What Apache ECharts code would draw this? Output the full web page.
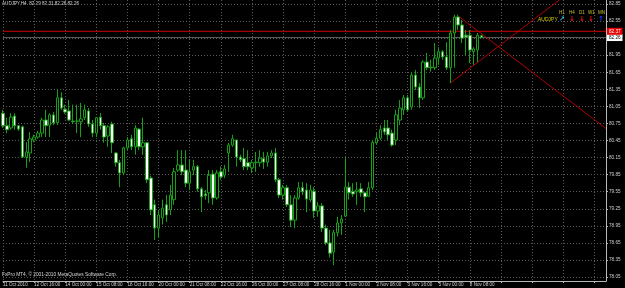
<!DOCTYPE html>
<html><head><meta charset="utf-8">
<script src="https://cdn.jsdelivr.net/npm/echarts@6/dist/echarts.min.js"></script>
<style>html,body{margin:0;padding:0;background:#000}#c{width:625px;height:288px}</style>
</head><body><div id="c"></div>
<script>
const xLabels = ['11 Oct 2010','12 Oct 16:00','14 Oct 00:00','15 Oct 08:00','18 Oct 16:00','20 Oct 00:00','21 Oct 08:00','22 Oct 16:00','26 Oct 00:00','27 Oct 08:00','28 Oct 16:00','1 Nov 00:00','2 Nov 08:00','3 Nov 16:00','5 Nov 00:00','8 Nov 08:00'];
const yTicks = [78.05,78.35,78.65,78.95,79.25,79.55,79.85,80.15,80.45,80.75,81.05,81.35,81.65,81.95,82.25,82.55,82.85];
const opens = [80.93,80.71,80.67,80.88,80.71,80.69,80.16,80.23,80.46,80.51,
80.58,80.81,80.72,80.90,80.76,81.20,81.00,80.97,80.79,80.79,
80.78,80.85,80.97,80.74,80.58,80.86,80.71,80.53,80.74,80.23,
80.06,79.88,80.32,80.48,80.34,80.65,80.34,80.41,79.79,79.32,
78.91,79.09,79.32,79.23,79.41,79.93,80.02,79.93,79.70,79.93,
79.99,79.60,79.51,79.53,79.86,79.44,79.90,79.84,80.23,80.37,
80.46,80.16,80.13,80.06,79.97,80.06,80.06,80.13,80.07,80.18,
80.23,79.76,79.49,79.62,79.32,79.05,79.44,79.62,79.58,79.41,
79.56,79.21,79.30,78.91,78.65,78.49,78.83,79.00,79.12,79.63,
79.55,79.55,79.60,79.53,79.47,79.62,80.41,80.49,80.67,80.67,
80.58,80.46,80.81,80.99,81.20,81.04,81.60,81.39,81.20,81.83,
81.74,81.73,81.90,82.01,81.92,81.73,82.34,82.62,82.48,82.30,
82.30,82.01,82.04,82.29];
const closes = [80.71,80.64,80.86,80.71,80.65,80.16,80.25,80.48,80.51,80.58,
80.81,80.71,80.90,80.76,81.20,81.02,80.95,80.81,80.78,80.79,
80.83,80.99,80.74,80.58,80.85,80.71,80.51,80.69,80.41,80.06,
79.88,80.32,80.46,80.34,80.67,80.34,80.41,79.76,79.23,78.91,
79.14,79.26,79.14,79.49,79.90,80.02,79.90,79.70,79.90,79.99,
79.60,79.46,79.48,79.84,79.44,79.88,79.81,79.95,80.37,80.48,
80.16,80.11,79.99,79.99,80.06,80.07,80.14,80.07,80.18,80.23,
79.76,79.49,79.62,79.32,79.05,79.44,79.62,79.55,79.42,79.58,
79.21,79.30,78.91,78.65,78.47,78.83,79.00,79.07,79.63,79.53,
79.51,79.58,79.53,79.46,79.62,80.42,80.49,80.64,80.60,80.55,
80.37,80.90,81.02,81.20,80.99,81.60,81.39,81.20,81.83,81.73,
81.73,81.90,82.01,81.92,81.73,82.34,82.62,82.48,82.25,82.27,
82.04,82.06,82.30,82.26];
const lows = [80.67,80.58,80.64,80.64,80.62,80.14,79.97,80.07,80.42,80.48,
80.51,80.51,80.51,80.72,80.72,80.99,80.92,80.79,80.74,80.58,
80.51,80.81,80.69,80.51,80.51,80.64,80.41,80.34,80.23,79.99,
79.63,79.84,80.28,80.28,80.20,80.28,80.20,79.70,79.14,78.70,
78.74,78.97,79.02,79.14,79.32,79.90,79.84,79.63,79.58,79.84,
79.55,79.19,79.41,79.35,79.32,79.41,79.76,79.79,79.90,80.34,
79.99,80.07,79.93,79.93,79.88,79.90,79.99,79.95,79.99,80.14,
79.72,79.44,79.41,79.28,78.93,78.91,79.41,79.49,79.19,79.37,
79.09,79.11,78.84,78.61,78.39,78.26,78.76,78.79,79.11,79.41,
79.46,79.32,79.46,79.19,79.46,79.58,80.37,80.46,80.55,80.46,
80.34,80.37,80.72,80.90,80.95,80.99,81.34,81.02,81.16,81.69,
81.66,81.69,81.78,81.87,81.69,81.46,81.73,82.39,82.16,81.95,
81.81,81.78,81.83,82.26];
const highs = [80.99,80.85,80.93,80.93,80.72,80.71,80.42,80.60,80.55,80.62,
80.85,80.99,80.93,80.95,81.34,81.30,81.08,81.16,81.08,81.08,
81.11,81.08,81.02,80.81,80.86,80.93,80.76,80.72,80.78,80.25,
80.11,80.34,80.51,80.55,80.72,80.67,80.85,80.42,79.83,79.41,
79.23,79.41,79.49,79.67,79.97,80.28,80.28,80.28,80.11,80.11,
80.02,79.63,79.58,79.93,79.93,79.93,79.99,80.02,80.41,80.55,
80.46,80.20,80.32,80.28,80.11,80.25,80.28,80.25,80.25,80.28,
80.32,79.79,79.67,79.67,79.49,79.49,79.72,79.72,79.70,79.67,
79.63,79.37,79.35,78.97,78.88,78.88,79.11,79.14,80.16,79.72,
79.70,79.72,79.70,79.55,79.72,80.46,80.58,80.72,80.81,80.81,
80.64,80.99,81.16,81.25,81.25,81.65,81.69,81.46,81.86,81.99,
81.87,82.16,82.09,82.04,82.18,82.39,82.66,82.66,82.57,82.39,
82.39,82.09,82.34,82.31];
const trendRise = [[115, 81.46], [143, 82.92]];
const trendFall = [[117, 82.64], [155, 80.66]];
const hLinePrice = 82.37;
const bidPrice = 82.26;
const slotCount = 156;
const titleText = 'AUDJPY,H4  82.29 82.31 82.26 82.26';
const copyText = 'FxPro MT4, \u00a9 2001-2010 MetaQuotes Software Corp.';
const tfNames = ['H1','H4','D1','W1','MN'];
const tfArrows = ['\u2197','\u2193','\u2193','\u2193','\u2191'];
const tfColors = ['#2fb6e8','#ff1010','#ff1010','#ff1010','#1040ff'];

const cats = [];
for (let i = 0; i < slotCount; i++) cats.push('b' + i);
const candles = opens.map((o, i) => [o, closes[i], lows[i], highs[i]]);
const FONT = 'Liberation Sans';
const lastCat = cats[slotCount - 1];

const graphics = [
  {type:'text', x:2, y:1, style:{text:titleText, fill:'#d8d8d8', font:'4.6px "Liberation Sans"'}},
  {type:'text', x:2, y:272, style:{text:copyText, fill:'#d8d8d8', font:'4.8px "Liberation Sans"'}},
  {type:'text', x:538, y:17, style:{text:'AUDJPY', fill:'#d8c800', font:'5px "Liberation Sans"'}}
];
const tfX = [559, 569, 579, 588, 598];
tfNames.forEach((n, k) => {
  graphics.push({type:'text', x:tfX[k], y:10, style:{text:n, fill:'#c8c030', font:'4.5px "Liberation Sans"'}});
  graphics.push({type:'text', x:tfX[k], y:16, style:{text:tfArrows[k], fill:tfColors[k], font:'bold 7px "DejaVu Sans"'}});
});

function hSeries(price, lineColor, bg, fg) {
  return {
    type:'line', data:[[cats[0], price], [lastCat, price]], symbol:'none', silent:true, z:3,
    lineStyle:{color:lineColor, width:1, type:'solid'},
    endLabel:{show:true, formatter:()=>price.toFixed(2), backgroundColor:bg, color:fg, fontSize:4.6, padding:[1,2], distance:1, fontFamily:FONT}
  };
}
function tSeries(pts) {
  return {
    type:'line', data:pts.map(p => [cats[p[0]], p[1]]), symbol:'none', silent:true, z:3,
    lineStyle:{color:'#b00000', width:1, type:'solid'}
  };
}

const chart = echarts.init(document.getElementById('c'), null, {renderer:'canvas'});
chart.setOption({
  backgroundColor:'#000',
  animation:false,
  grid:{left:2, right:19, top:0, bottom:7},
  xAxis:{
    type:'category', data:cats, boundaryGap:false,
    axisLine:{show:true, lineStyle:{color:'#b8b8b8'}},
    axisTick:{show:true, length:2, interval:(i)=>i%8===0, lineStyle:{color:'#b8b8b8'}},
    axisLabel:{interval:(i)=>i%8===0 && i/8 < xLabels.length, formatter:(v, i)=>xLabels[i/8] || '', align:'left', color:'#d0d0d0', fontSize:4.6, margin:1, fontFamily:FONT},
    splitLine:{show:true, interval:(i)=>i%8===0, lineStyle:{color:'#5a5a5a', type:[1,2]}}
  },
  yAxis:{
    type:'value', position:'right', min:77.98, max:82.92, scale:true,
    axisLine:{show:true, lineStyle:{color:'#b8b8b8'}},
    axisTick:{show:true, length:2, customValues:yTicks, lineStyle:{color:'#b8b8b8'}},
    axisLabel:{customValues:yTicks, formatter:(v)=>v.toFixed(2), color:'#d0d0d0', fontSize:4.6, margin:3, fontFamily:FONT},
    splitLine:{show:true, lineStyle:{color:'#5a5a5a', type:[1,2]}}
  },
  graphic: graphics,
  series:[
    hSeries(bidPrice, '#5c5c5c', '#ffffff', '#000'),
    hSeries(hLinePrice, '#d00000', '#e80000', '#fff'),
    tSeries(trendRise),
    tSeries(trendFall),
    {
      type:'candlestick', data:candles, barWidth:3, z:4,
      itemStyle:{color:'#000', color0:'#ffffff', borderColor:'#18a018', borderColor0:'#18a018', borderColorDoji:'#18a018', borderWidth:1}
    }
  ]
});
</script></body></html>
